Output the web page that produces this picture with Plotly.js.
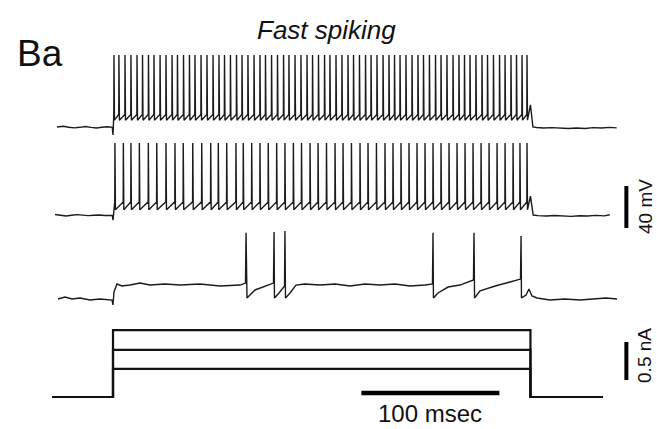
<!DOCTYPE html>
<html><head><meta charset="utf-8">
<script src="https://cdn.plot.ly/plotly-3.0.1.min.js"></script>
<style>html,body{margin:0;padding:0;background:#fff}#chart{width:657px;height:429px}</style>
</head><body><div id="chart"></div>
<script>
// Time in ms, relative to onset of the current step
const stepOn = 0, stepOff = 302.5;

// Trace 1 (largest current) spike times, ms
const spikes1 = [0.7,4.3,8.7,13.0,17.4,21.4,25.7,29.7,34.1,38.4,42.8,46.7,51.1,55.4,59.4,63.8,68.1,72.5,76.8,80.8,85.1,89.5,93.5,97.8,102.2,106.5,110.5,114.9,119.2,123.6,127.5,131.9,136.2,140.6,144.6,148.9,153.3,157.2,161.6,165.9,170.3,174.3,178.6,183.0,187.0,191.3,195.7,200.0,204.0,208.0,212.3,216.7,221.0,225.0,229.3,233.7,237.7,242.0,246.4,250.7,254.7,258.7,263.0,267.4,271.4,275.7,280.1,284.1,288.4,292.4,296.4,300.0];
// Trace 1 levels, mV: rest, spike peak, AHP trough, threshold, onset dip
const levels1 = [-70, -1.5, -63.5, -58, -77.5];
const pre1T = [-40.6,-36,-32,-28,-24,-20,-16,-12,-8,-4,-0.5];
const pre1V = [-70,-69.3,-70.2,-70.8,-70.3,-69.6,-70.4,-70.9,-70.2,-69.8,-70.3];
const post1T = [302.5,304.3,307,312,318,324,330,336,342,348,354,360,365];
const post1V = [-49,-70,-70.5,-71,-70.6,-71.2,-71.5,-71.0,-71.4,-70.6,-71.0,-70.4,-70.8];

// Trace 2 (middle current) spike times, ms
const spikes2 = [1.4,7.5,13.0,19.1,25.6,31.7,38.4,44.9,50.9,57.8,64.3,70.8,76.3,82.4,89.1,94.4,100.5,106.5,112.5,118.6,124.6,130.7,136.6,142.8,148.6,154.7,160.9,166.7,172.8,179.0,184.8,190.9,197.1,202.9,208.7,214.5,220.3,226.1,231.9,237.7,243.5,249.3,255.1,260.9,266.7,272.5,278.3,284.1,289.9,294.9,300.0];
const levels2 = [-70, -1.5, -65, -57.5, -75];
const pre2T = [-42,-38,-34,-30,-26,-22,-18,-14,-10,-6,-2,-0.5];
const pre2V = [-69.5,-70.4,-70.9,-70.2,-69.6,-70.1,-70.6,-70.3,-70.0,-70.5,-70.2,-70.4];
const post2T = [302.5,304.5,308,314,320,326,332,338,344,350,356,360];
const post2V = [-52,-70,-70.6,-71,-70.5,-70.8,-71.3,-70.7,-71,-70.4,-70.8,-69.8];

// Trace 3 (smallest current), explicit samples, ms / mV
const t3 = [-39.9,-34.8,-29.7,-23.9,-16.7,-9.4,-0.7,0,0.7,2.9,6.5,12.3,19.6,26.8,37.7,48.6,63,77.5,92,96.0,96.4,96.7,97.1,102.9,110.1,116.3,116.7,117.0,120.3,124.3,124.6,125,128.3,132.6,139.1,150,160.9,171.7,182.6,193.5,204.3,215.2,226.1,231.5,231.9,232.2,235.5,242.8,251.4,258.7,261.2,261.6,262,266,277,287.7,295.3,295.7,296,299.3,301.4,303.6,307.2,316.7,327.5,338.4,349.3,357.2,365.2];
const v3 = [-70,-68.1,-70,-69,-71,-70,-71,-75.7,-63.3,-55.7,-57.6,-56.7,-54.8,-56.7,-55.7,-56.7,-55.7,-57.6,-56.7,-54.8,-7,-64.3,-69,-61.4,-57.6,-54.8,-6.2,-69,-64.3,-57.6,-5.2,-69,-64.3,-56.7,-55.7,-56.7,-55.7,-57.6,-55.7,-56.7,-55.7,-57.6,-56.7,-55.7,-7,-69,-64.3,-58.6,-56.7,-52.9,-51.9,-7,-69,-62.3,-57.6,-53.8,-51,-10,-69,-66.2,-60.5,-67.1,-69,-71,-70,-71,-70,-69,-70];

// Injected current steps, nA
const stepLevels = [0.88, 0.62, 0.37];
const iStartT = -44.2, iEndT = 355;

function spikeTrain(spk, lv, preT, preV, postT, postV) {
  const [rest, peak, trough, thresh, dip] = lv;
  const x = [...preT], y = [...preV];
  x.push(stepOn); y.push(dip);
  for (let i = 0; i < spk.length; i++) {
    const t = spk[i];
    x.push(t - 0.12); y.push(thresh);
    x.push(t); y.push(peak);
    x.push(t + 0.35); y.push(trough);
  }
  for (let i = 0; i < postT.length; i++) { x.push(postT[i]); y.push(postV[i]); }
  return {x, y};
}

const tr1 = spikeTrain(spikes1, levels1, pre1T, pre1V, post1T, post1V);
const tr2 = spikeTrain(spikes2, levels2, pre2T, pre2V, post2T, post2V);

const W = 657, H = 429;
const pxPerMs = 1.38, onsetPx = 113;
const xRange = [(0 - onsetPx) / pxPerMs, (W - onsetPx) / pxPerMs];
function yRange(restPx, restVal, pxPerUnit) {
  return [restVal - (H - restPx) / pxPerUnit, restVal + restPx / pxPerUnit];
}
const lineStyle = {color: '#1b1b1b', width: 1.4};
const data = [
  {x: tr1.x, y: tr1.y, yaxis: 'y', mode: 'lines', line: lineStyle, hoverinfo: 'skip'},
  {x: tr2.x, y: tr2.y, yaxis: 'y2', mode: 'lines', line: lineStyle, hoverinfo: 'skip'},
  {x: t3, y: v3, yaxis: 'y3', mode: 'lines', line: lineStyle, hoverinfo: 'skip'}
];
stepLevels.forEach(lv => {
  data.push({x: [iStartT, stepOn, stepOn, stepOff, stepOff, iEndT], y: [0, 0, lv, lv, 0, 0],
    yaxis: 'y4', mode: 'lines', line: {color: '#111', width: 2.2}, hoverinfo: 'skip'});
});

const hidden = {visible: false, fixedrange: true};
const font = 'Liberation Sans, Arial, sans-serif';
const ann = (o) => Object.assign({showarrow: false, xanchor: 'center', yanchor: 'middle'}, o);
const layout = {
  width: W, height: H, margin: {l: 0, r: 0, t: 0, b: 0},
  paper_bgcolor: '#fff', plot_bgcolor: '#fff', showlegend: false,
  xaxis: Object.assign({range: xRange, domain: [0, 1]}, hidden),
  yaxis: Object.assign({range: yRange(127, -70, 1.05)}, hidden),
  yaxis2: Object.assign({range: yRange(215, -70, 1.05), overlaying: 'y'}, hidden),
  yaxis3: Object.assign({range: yRange(299, -70, 1.05), overlaying: 'y'}, hidden),
  yaxis4: Object.assign({range: yRange(397, 0, 76), overlaying: 'y'}, hidden),
  shapes: [
    {type: 'line', xref: 'x', yref: 'paper', x0: 180, x1: 280, y0: 1 - 393 / H, y1: 1 - 393 / H, line: {color: '#000', width: 4.5}},
    {type: 'line', xref: 'x', yref: 'y2', x0: 372, x1: 372, y0: -82.4, y1: -42.4, line: {color: '#000', width: 4}},
    {type: 'line', xref: 'x', yref: 'y4', x0: 372, x1: 372, y0: 0.224, y1: 0.724, line: {color: '#000', width: 4}}
  ],
  annotations: [
    ann({text: 'Ba', xref: 'paper', yref: 'paper', x: 40 / W, y: 1 - 54 / H, font: {family: font, size: 37, color: '#111'}}),
    ann({text: '<i>Fast spiking</i>', xref: 'paper', yref: 'paper', x: 326 / W, y: 1 - 30 / H, font: {family: font, size: 26, color: '#111'}}),
    ann({text: '100 msec', xref: 'x', yref: 'paper', x: 230, y: 1 - 413 / H, font: {family: font, size: 24, color: '#111'}}),
    ann({text: '40 mV', xref: 'x', yref: 'y2', x: (645 - onsetPx) / pxPerMs, y: -62.4, textangle: -90, font: {family: font, size: 19, color: '#111'}}),
    ann({text: '0.5 nA', xref: 'x', yref: 'y4', x: (645 - onsetPx) / pxPerMs, y: 0.54, textangle: -90, font: {family: font, size: 19, color: '#111'}})
  ]
};
Plotly.newPlot('chart', data, layout, {displayModeBar: false, staticPlot: true});
</script></body></html>
